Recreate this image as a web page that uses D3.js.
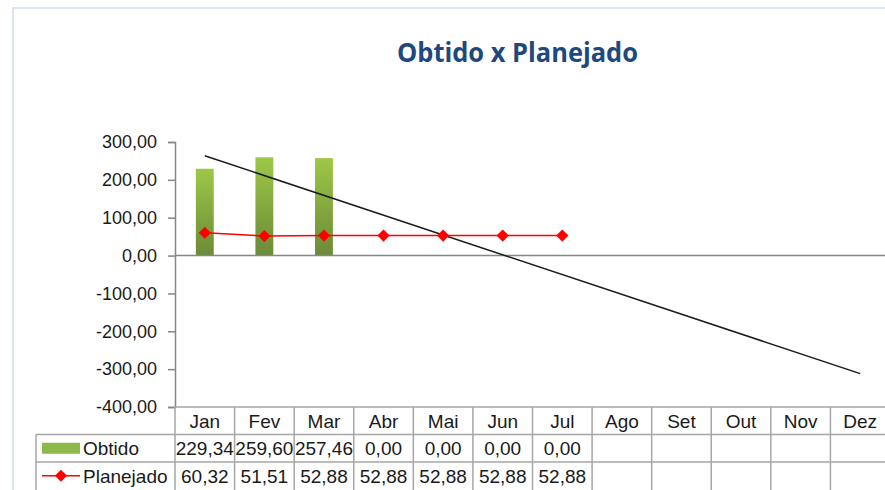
<!DOCTYPE html>
<html lang="pt">
<head>
  <meta charset="utf-8">
  <title>Obtido x Planejado</title>
  <script src="https://d3js.org/d3.v7.min.js"></script>
  <style>
    body { margin: 0; background: #fff; }
    svg { display: block; }
    text { font-family: "Liberation Sans", Arial, sans-serif; fill: #1a1a1a; }
  </style>
</head>
<body>
  <svg width="885" height="490"></svg>
  <script>
    // dados do gráfico
    const months = ["Jan", "Fev", "Mar", "Abr", "Mai", "Jun", "Jul", "Ago", "Set", "Out", "Nov", "Dez"];
    const obtido = [229.34, 259.60, 257.46, 0, 0, 0, 0];
    const planejado = [60.32, 51.51, 52.88, 52.88, 52.88, 52.88, 52.88];
    const yTicks = [300, 200, 100, 0, -100, -200, -300, -400];

    const svg = d3.select("svg");
    const pt = d3.formatLocale({ decimal: ",", thousands: ".", grouping: [3], currency: ["R$", ""], minus: "-" });
    const fmt = pt.format(".2f");

    // moldura da área do gráfico
    svg.append("path")
      .attr("d", "M13,490V8H885")
      .attr("fill", "none")
      .attr("stroke", "#dce6f2")
      .attr("stroke-width", 2);

    // título
    svg.append("text")
      .attr("x", 517.5)
      .attr("y", 62)
      .attr("text-anchor", "middle")
      .attr("textLength", 241)
      .attr("lengthAdjust", "spacingAndGlyphs")
      .style("font-family", "'Open Sans', sans-serif")
      .style("font-weight", "bold")
      .style("font-size", "26px")
      .style("fill", "#1f497d")
      .text("Obtido x Planejado");

    const x = d3.scaleBand().domain(months).range([175, 890]);
    const y = d3.scaleLinear().domain([-400, 300]).range([407, 142]);

    // gradiente das barras
    const grad = svg.append("defs").append("linearGradient")
      .attr("id", "verde").attr("x1", 0).attr("y1", 0).attr("x2", 0).attr("y2", 1);
    grad.append("stop").attr("offset", "0%").attr("stop-color", "#9dc846");
    grad.append("stop").attr("offset", "100%").attr("stop-color", "#6b8a38");

    // eixo y
    const yAxis = svg.append("g")
      .attr("transform", "translate(175,0)")
      .call(d3.axisLeft(y).tickValues(yTicks).tickSize(7).tickPadding(11).tickFormat(fmt));
    yAxis.select(".domain").attr("stroke", "#868686").attr("stroke-width", 1.5);
    yAxis.selectAll(".tick line").attr("stroke", "#868686").attr("stroke-width", 1.5);
    yAxis.selectAll(".tick text")
      .style("font-family", "'Liberation Sans', Arial, sans-serif")
      .style("font-size", "18px")
      .attr("fill", "#1a1a1a");

    // barras
    const bw = x.bandwidth() * 0.3;
    svg.append("g").selectAll("rect")
      .data(obtido)
      .join("rect")
        .attr("x", (d, i) => x(months[i]) + x.bandwidth() / 2 - bw / 2)
        .attr("y", d => y(Math.max(d, 0)))
        .attr("width", bw)
        .attr("height", d => Math.abs(y(d) - y(0)))
        .attr("fill", "url(#verde)");

    // linha do zero
    svg.append("line")
      .attr("x1", 175).attr("x2", 885)
      .attr("y1", y(0)).attr("y2", y(0))
      .attr("stroke", "#868686").attr("stroke-width", 1.5);

    // linha de tendência (regressão linear do Obtido)
    const mx = d3.mean(obtido, (d, i) => i);
    const my = d3.mean(obtido);
    const slope = d3.sum(obtido, (d, i) => (i - mx) * (d - my)) / d3.sum(obtido, (d, i) => (i - mx) * (i - mx));
    const trend = i => my + slope * (i - mx);
    const cx = i => x(months[i]) + x.bandwidth() / 2;
    svg.append("line")
      .attr("x1", cx(0)).attr("y1", y(trend(0)))
      .attr("x2", cx(months.length - 1)).attr("y2", y(trend(months.length - 1)))
      .attr("stroke", "#1a1a1a").attr("stroke-width", 1.5);

    // linha Planejado
    svg.append("path")
      .datum(planejado)
      .attr("fill", "none")
      .attr("stroke", "#ff0000")
      .attr("stroke-width", 1.5)
      .attr("d", d3.line().x((d, i) => cx(i)).y(d => y(d)));
    const diamond = d3.symbol().type(d3.symbolDiamond2).size(95);
    svg.append("g").selectAll("path")
      .data(planejado)
      .join("path")
        .attr("transform", (d, i) => `translate(${cx(i)},${y(d)})`)
        .attr("d", diamond)
        .attr("fill", "#ff0000");

    // tabela de dados
    const rowTop = [407, 434.5, 462, 489.5];
    const grid = "#a6a6a6";
    const tbl = svg.append("g");
    // linhas horizontais
    tbl.append("line").attr("x1", 175).attr("x2", 885).attr("y1", rowTop[0]).attr("y2", rowTop[0]).attr("stroke", grid).attr("stroke-width", 1.5);
    [rowTop[1], rowTop[2]].forEach(yy => {
      tbl.append("line").attr("x1", 36).attr("x2", 885).attr("y1", yy).attr("y2", yy).attr("stroke", grid).attr("stroke-width", 1.5);
    });
    // linhas verticais
    tbl.append("line").attr("x1", 36).attr("x2", 36).attr("y1", rowTop[1]).attr("y2", 490).attr("stroke", grid).attr("stroke-width", 1.5);
    months.forEach(m => {
      const xx = x(m) + x.bandwidth();
      tbl.append("line").attr("x1", xx).attr("x2", xx).attr("y1", rowTop[0]).attr("y2", 490).attr("stroke", grid).attr("stroke-width", 1.5);
    });
    tbl.append("line").attr("x1", 175).attr("x2", 175).attr("y1", rowTop[0]).attr("y2", 490).attr("stroke", grid).attr("stroke-width", 1.5);

    const cellText = (txt, xx, r, anchor) => tbl.append("text")
      .attr("x", xx)
      .attr("y", (rowTop[r] + rowTop[r + 1]) / 2)
      .attr("dy", "0.36em")
      .attr("text-anchor", anchor || "middle")
      .style("font-size", "19px")
      .text(txt);

    months.forEach((m, i) => cellText(m, cx(i), 0));
    obtido.forEach((v, i) => cellText(fmt(v), cx(i), 1));
    planejado.forEach((v, i) => cellText(fmt(v), cx(i), 2));

    // legenda na tabela
    const ly1 = (rowTop[1] + rowTop[2]) / 2;
    tbl.append("rect").attr("x", 42).attr("y", ly1 - 5.5).attr("width", 38).attr("height", 11).attr("fill", "#8db84a");
    cellText("Obtido", 83, 1, "start");
    const ly2 = (rowTop[2] + rowTop[3]) / 2;
    tbl.append("line").attr("x1", 42).attr("x2", 80).attr("y1", ly2).attr("y2", ly2).attr("stroke", "#ff0000").attr("stroke-width", 1.5);
    tbl.append("path").attr("transform", `translate(61,${ly2})`).attr("d", diamond).attr("fill", "#ff0000");
    cellText("Planejado", 83, 2, "start");
  </script>
</body>
</html>
